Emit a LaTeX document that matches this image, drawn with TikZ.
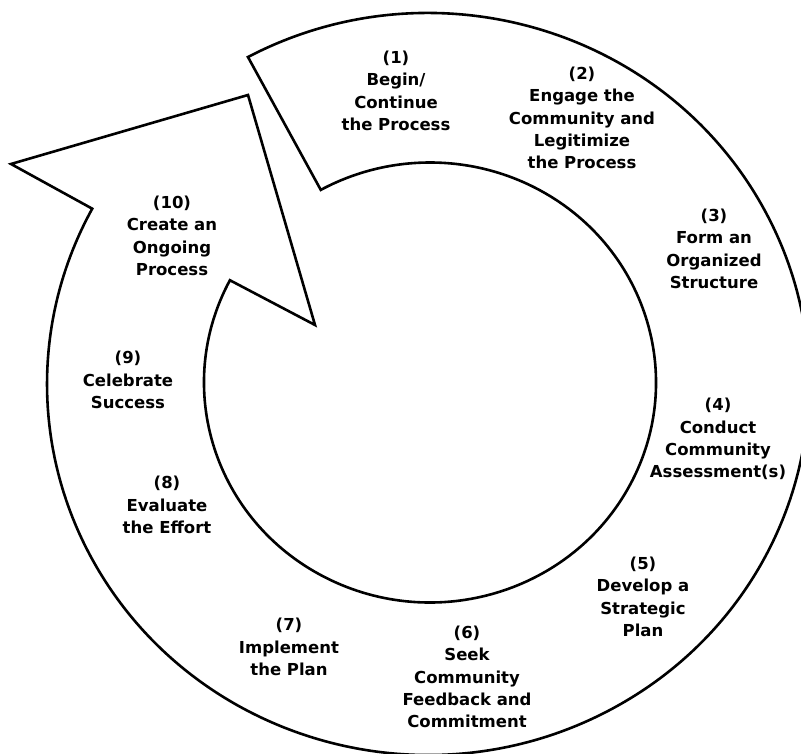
\documentclass[tikz,border=0pt]{standalone}
\usepackage{fontspec}
\setmainfont{DejaVu Sans}
\usetikzlibrary{calc}
\begin{document}
\begin{tikzpicture}[x=1pt,y=1pt,
  ring/.style={draw=black, line width=2.6pt, line join=miter, fill=white},
  lbl/.style={align=center, font=\bfseries\fontsize{16.5}{22.3}\selectfont, inner sep=0pt}]
\useasboundingbox (0,0) rectangle (801,754);
\coordinate (O) at (428,370);
\coordinate (I) at (430,371.5);
\coordinate (tip) at (11,590);
\coordinate (hl) at (248,659);
\coordinate (hr) at (315,429);
\draw[ring] ($(O)+({381*cos(118.2)},{371*sin(118.2)})$)
  arc[start angle=118.2, end angle=-208.2, x radius=381, y radius=371]
  -- (tip) -- (hl) -- (hr) -- ($(I)+({226*cos(152.3)},{220*sin(152.3)})$)
  arc[start angle=152.3, end angle=478.9, x radius=226, y radius=220] -- cycle;
\node[lbl] (t1) at (396,663) {(1)\\Begin/\\Continue\\the Process};
\node[lbl] (t2) at (582,636) {(2)\\Engage the\\Community and\\Legitimize\\the Process};
\node[lbl] (t3) at (714,505) {(3)\\Form an\\Organized\\Structure};
\node[lbl] (t4) at (718,315) {(4)\\Conduct\\Community\\Assessment(s)};
\node[lbl] (t5) at (643,157) {(5)\\Develop a\\Strategic\\Plan};
\node[lbl] (t6) at (467,77) {(6)\\Seek\\Community\\Feedback and\\Commitment};
\node[lbl] (t7) at (289,107) {(7)\\Implement\\the Plan};
\node[lbl] (t8) at (167,249) {(8)\\Evaluate\\the Effort};
\node[lbl] (t9) at (128,374) {(9)\\Celebrate\\Success};
\node[lbl] (t10) at (172,518) {(10)\\Create an\\Ongoing\\Process};
\end{tikzpicture}
\end{document}
